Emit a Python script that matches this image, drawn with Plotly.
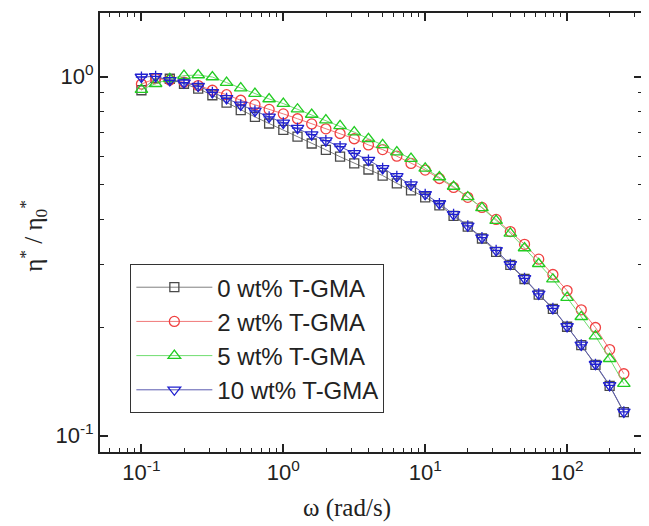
import plotly.graph_objects as go

# Angular frequency (rad/s): 10 points per decade from 0.1 rad/s
omega = [0.1, 0.1259, 0.1585, 0.1995, 0.2512, 0.3162, 0.3981, 0.5012, 0.631, 0.7943,
         1.0, 1.259, 1.585, 1.995, 2.512, 3.162, 3.981, 5.012, 6.31, 7.943,
         10.0, 12.59, 15.85, 19.95, 25.12, 31.62, 39.81, 50.12, 63.1, 79.43,
         100.0, 125.9, 158.5, 199.5, 251.2]

eta_0wt = [0.916, 0.990, 0.986, 0.955, 0.925, 0.887, 0.846, 0.806, 0.772, 0.740,
           0.710, 0.680, 0.651, 0.625, 0.598, 0.573, 0.551, 0.530, 0.504, 0.482,
           0.461, 0.438, 0.409, 0.382, 0.354, 0.325, 0.299, 0.273, 0.247, 0.2255,
           0.201, 0.1787, 0.1573, 0.1376, 0.1162]

eta_2wt = [0.953, 0.987, 0.978, 0.965, 0.944, 0.916, 0.890, 0.859, 0.835, 0.810,
           0.787, 0.763, 0.738, 0.715, 0.694, 0.671, 0.645, 0.626, 0.600, 0.573,
           0.549, 0.520, 0.491, 0.461, 0.432, 0.400, 0.370, 0.341, 0.310, 0.281,
           0.2535, 0.224, 0.200, 0.1736, 0.1487]

eta_5wt = [0.920, 0.955, 0.986, 1.006, 1.010, 0.997, 0.962, 0.929, 0.896, 0.866,
           0.841, 0.811, 0.784, 0.756, 0.729, 0.700, 0.671, 0.645, 0.616, 0.591,
           0.555, 0.525, 0.494, 0.462, 0.431, 0.397, 0.366, 0.333, 0.301, 0.2726,
           0.2424, 0.2143, 0.1892, 0.1637, 0.1395]

eta_10wt = [0.997, 1.001, 0.976, 0.961, 0.941, 0.903, 0.869, 0.834, 0.802, 0.772,
            0.743, 0.718, 0.689, 0.663, 0.638, 0.611, 0.585, 0.555, 0.527, 0.500,
            0.470, 0.443, 0.413, 0.384, 0.356, 0.328, 0.300, 0.274, 0.248, 0.226,
            0.2015, 0.179, 0.158, 0.138, 0.1164]

series_names = ["0 wt% T-GMA", "2 wt% T-GMA", "5 wt% T-GMA", "10 wt% T-GMA"]

x_tickvals = [0.1, 1, 10, 100]
x_ticktext = ["10<sup>-1</sup>", "10<sup>0</sup>", "10<sup>1</sup>", "10<sup>2</sup>"]
y_tickvals = [0.1, 1]
y_ticktext = ["10<sup>-1</sup>", "10<sup>0</sup>"]

minor_vals = [m * 10 ** e for e in range(-2, 3) for m in range(2, 10)]

styles = [
    dict(sym="square-open", mc="#4a4a4a", lc="#808080", size=9),
    dict(sym="circle-open", mc="#f04040", lc="#f07878", size=10),
    dict(sym="triangle-up-open", mc="#22cc22", lc="#70dd70", size=11),
    dict(sym="triangle-down-open", mc="#2020d0", lc="#5a5ab0", size=11),
]

fig = go.Figure()
for name, ys, st in zip(series_names, [eta_0wt, eta_2wt, eta_5wt, eta_10wt], styles):
    fig.add_trace(go.Scatter(
        x=omega, y=ys, name=name, mode="lines+markers",
        line=dict(color=st["lc"], width=1),
        marker=dict(symbol=st["sym"], size=st["size"], color=st["mc"],
                    line=dict(color=st["mc"], width=1.3)),
    ))
# inner cross of the 10 wt% markers
fig.add_trace(go.Scatter(
    x=omega, y=eta_10wt, mode="markers", showlegend=False, hoverinfo="skip",
    marker=dict(symbol="cross-thin-open", size=8, color="#2020d0",
                line=dict(color="#2020d0", width=1.3)),
))

axis_common = dict(
    type="log", showline=True, linecolor="#222", linewidth=2, mirror="ticks",
    ticks="inside", ticklen=8, tickwidth=1.5, tickcolor="#222",
    showgrid=False, zeroline=False,
    tickfont=dict(family="Liberation Sans, Arial, sans-serif", size=22, color="#222"),
    minor=dict(ticks="inside", ticklen=4, tickwidth=1.2, tickcolor="#222",
               tickmode="array", tickvals=minor_vals, showgrid=False),
)

fig.update_xaxes(range=[-1.292, 2.528], tickmode="array", tickvals=x_tickvals,
                 ticktext=x_ticktext, **axis_common)
fig.update_yaxes(range=[-1.0457, 0.177], tickmode="array", tickvals=y_tickvals,
                 ticktext=y_ticktext, **axis_common)

fig.add_annotation(text="ω (rad/s)", xref="paper", yref="paper", x=0.455, y=-0.128,
                   xanchor="center", yanchor="middle", showarrow=False,
                   font=dict(family="Liberation Serif, Times New Roman, serif", size=25, color="#222"))
fig.add_annotation(text="η<sup>*</sup> / η<sub>0</sub><sup>*</sup>", xref="paper", yref="paper",
                   x=-0.1226, y=0.4915, xanchor="center", yanchor="middle", textangle=-90,
                   showarrow=False,
                   font=dict(family="Liberation Serif, Times New Roman, serif", size=25, color="#222"))

# page body keeps its default 8px margin, so the figure is 8px smaller than the window
fig.update_layout(
    width=641, height=518,
    margin=dict(l=91.5, r=7, t=2.5, b=74),
    paper_bgcolor="white", plot_bgcolor="white",
    legend=dict(x=0.056, y=0.428, xanchor="left", yanchor="top",
                bgcolor="white", bordercolor="#333", borderwidth=1,
                itemwidth=76,
                font=dict(family="Liberation Sans, Arial, sans-serif", size=24, color="#222")),
    showlegend=True,
)

fig.write_html("out.html")
